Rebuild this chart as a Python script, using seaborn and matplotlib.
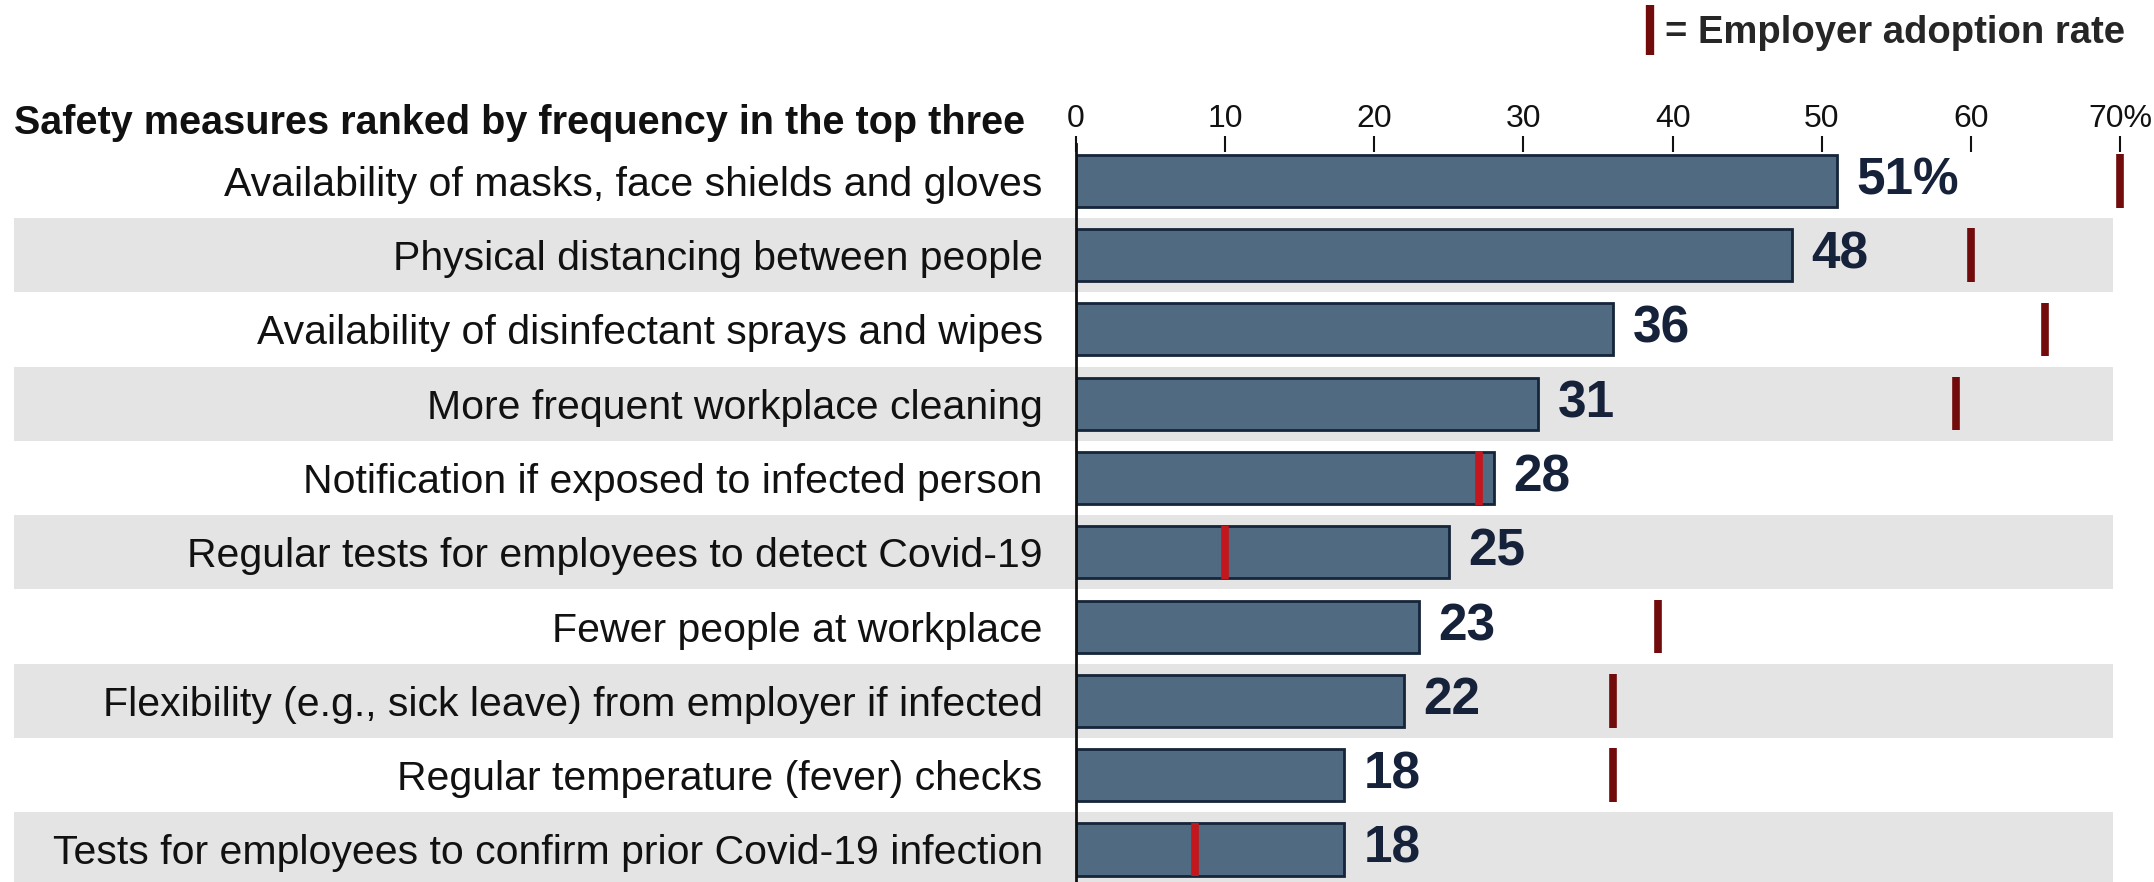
"""
Safety measures ranked by frequency in the top three,
with employer adoption rate markers.
"""

import pandas as pd
import matplotlib.pyplot as plt
from matplotlib.lines import Line2D
import seaborn as sns

measures = [
    "Availability of masks, face shields and gloves",
    "Physical distancing between people",
    "Availability of disinfectant sprays and wipes",
    "More frequent workplace cleaning",
    "Notification if exposed to infected person",
    "Regular tests for employees to detect Covid-19",
    "Fewer people at workplace",
    "Flexibility (e.g., sick leave) from employer if infected",
    "Regular temperature (fever) checks",
    "Tests for employees to confirm prior Covid-19 infection",
]
top_three_share = [51, 48, 36, 31, 28, 25, 23, 22, 18, 18]
adoption_rate = [70, 60, 65, 59, 27, 10, 39, 36, 36, 8]
value_labels = ["51%", "48", "36", "31", "28", "25", "23", "22", "18", "18"]
tick_values = [0, 10, 20, 30, 40, 50, 60, 70]
tick_labels = ["0", "10", "20", "30", "40", "50", "60", "70%"]

BAR_COLOR = "#506a81"
BAR_EDGE = "#15253a"
MARK_IN = "#c3161d"
MARK_OUT = "#720b0b"
BAND = "#e4e4e4"
LABEL_DARK = "#16213a"


def main() -> None:
    df = pd.DataFrame({"measure": measures,
                       "share": top_three_share,
                       "adoption": adoption_rate})

    sns.set_theme(style="white")
    plt.rcParams["font.family"] = ["Liberation Sans", "DejaVu Sans"]

    W, H = 2154, 882
    fig = plt.figure(figsize=(W / 100, H / 100), dpi=100)
    # axes: x=0 at px 1076, x=70 at px 2120; row 0 top at px 143.6
    x0, x70 = 1076, 2120
    ax = fig.add_axes([x0 / W, 0, (x70 - x0) / W, 1 - 143.6 / H])

    sns.barplot(data=df, x="share", y="measure", orient="h",
                color=BAR_COLOR, saturation=1, edgecolor=BAR_EDGE,
                linewidth=2, width=0.70, ax=ax, zorder=2)

    # alternating grey bands, running under the labels too
    band_left = (14 - x0) / (x70 - x0)
    for i in range(len(measures)):
        if i % 2 == 1:
            ax.axhspan(i - 0.5, i + 0.5, xmin=band_left, xmax=0.993,
                       color=BAND, zorder=0, clip_on=False, lw=0)

    # employer adoption markers
    ypos = list(range(len(measures)))
    colors = [MARK_IN if a < s else MARK_OUT
              for a, s in zip(adoption_rate, top_three_share)]
    ax.vlines(adoption_rate, [y - 0.36 for y in ypos],
              [y + 0.36 for y in ypos], colors=colors,
              linewidth=5.5, zorder=4, clip_on=False)

    ax.bar_label(ax.containers[0], labels=value_labels, padding=14,
                 fontsize=37, fontweight="bold", color=LABEL_DARK)

    ax.set_xlim(0, 70)
    ax.set_ylim(9 + (H - 849.5) / 74.3, -0.5)
    ax.set_xticks(tick_values, tick_labels)
    ax.xaxis.set_ticks_position("top")
    ax.set_xlabel("")
    ax.set_ylabel("")
    ax.tick_params(axis="x", direction="inout", length=11.5, width=1.5,
                   labelsize=23, pad=1, colors="#111111")
    ax.tick_params(axis="y", length=0, pad=24, labelsize=29.5,
                   labelcolor="#111111")
    for side in ["top", "right", "bottom"]:
        ax.spines[side].set_visible(False)
    ax.spines["left"].set_color("#111111")
    ax.spines["left"].set_linewidth(2)
    ax.set_facecolor("none")

    fig.text(14 / W, 1 - 123 / H,
             "Safety measures ranked by frequency in the top three",
             fontsize=28.5, fontweight="bold", va="center", ha="left",
             color="#111111")

    handle = Line2D([], [], marker="|", linestyle="None", color=MARK_OUT,
                    markersize=36, markeredgewidth=6)
    fig.legend(handles=[handle], labels=["= Employer adoption rate"],
               loc="center left", bbox_to_anchor=(1640 / W, 1 - 33 / H),
               frameon=False, handlelength=0.5, handletextpad=0.15,
               borderpad=0, borderaxespad=0,
               prop={"size": 27.5, "weight": "bold"})

    fig.savefig("out.png", dpi=100)
    plt.close(fig)


if __name__ == "__main__":
    main()
